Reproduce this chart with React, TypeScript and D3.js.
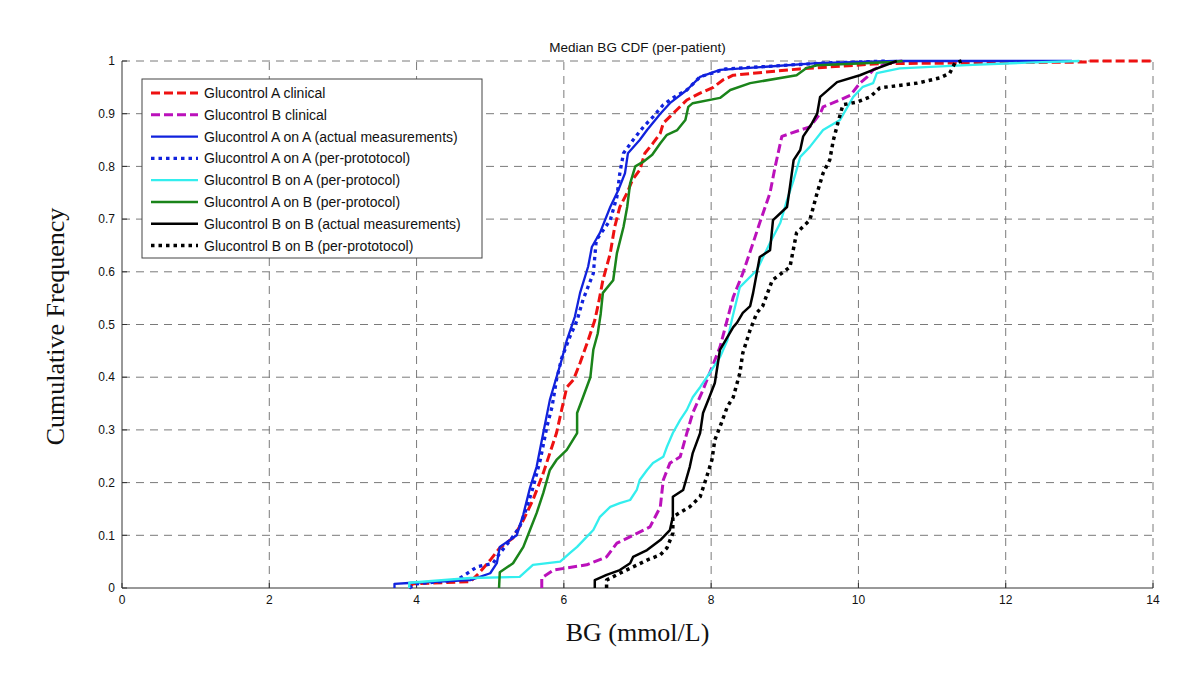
import React from "react";
import * as d3 from "d3";

type P = [number, number];

const xTicks = [0, 2, 4, 6, 8, 10, 12, 14];
const yTicks = [0, 0.1, 0.2, 0.3, 0.4, 0.5, 0.6, 0.7, 0.8, 0.9, 1];
const yTickLabels = ["0", "0.1", "0.2", "0.3", "0.4", "0.5", "0.6", "0.7", "0.8", "0.9", "1"];

const redAClinical: P[] = [[3.9,0],[3.95,0.008],[4.73,0.012],[4.86,0.03],[5.0,0.053],[5.13,0.076],[5.31,0.095],[5.45,0.129],[5.58,0.167],[5.72,0.218],[5.81,0.256],[5.9,0.294],[5.97,0.338],[6.04,0.381],[6.13,0.395],[6.22,0.427],[6.33,0.47],[6.42,0.508],[6.47,0.54],[6.53,0.584],[6.63,0.635],[6.69,0.685],[6.76,0.723],[6.86,0.75],[6.93,0.774],[7.03,0.793],[7.1,0.825],[7.21,0.844],[7.31,0.863],[7.35,0.882],[7.48,0.9],[7.67,0.926],[7.85,0.939],[8.03,0.95],[8.16,0.964],[8.3,0.973],[9.2,0.985],[10.3,0.995],[13.1,0.998],[13.1,1],[14,1]];
const magentaBClinical: P[] = [[5.7,0],[5.7,0.019],[5.86,0.034],[6.31,0.044],[6.58,0.059],[6.72,0.085],[6.94,0.1],[7.17,0.116],[7.31,0.154],[7.35,0.205],[7.44,0.237],[7.58,0.249],[7.67,0.294],[7.75,0.332],[7.89,0.376],[7.98,0.408],[8.12,0.457],[8.3,0.552],[8.43,0.597],[8.57,0.655],[8.66,0.693],[8.8,0.75],[8.87,0.8],[8.96,0.857],[9.21,0.869],[9.34,0.875],[9.48,0.9],[9.52,0.913],[9.75,0.926],[9.89,0.935],[10.02,0.958],[10.12,0.97],[10.2,0.983],[10.39,0.996],[10.6,1]];
const blueAonAActual: P[] = [[3.7,0],[3.7,0.008],[3.95,0.01],[4.73,0.015],[5.0,0.028],[5.09,0.047],[5.13,0.078],[5.36,0.1],[5.45,0.14],[5.54,0.19],[5.63,0.23],[5.72,0.294],[5.81,0.357],[5.9,0.4],[5.97,0.433],[6.04,0.47],[6.15,0.515],[6.22,0.56],[6.33,0.61],[6.38,0.647],[6.49,0.674],[6.63,0.723],[6.74,0.755],[6.83,0.787],[6.87,0.825],[7.03,0.85],[7.13,0.869],[7.31,0.9],[7.44,0.92],[7.67,0.945],[7.85,0.97],[8.12,0.983],[9.44,0.996],[10.5,1],[12.9,1]];
const blueAonAProtocol: P[] = [[3.9,0],[4.0,0.008],[4.55,0.015],[4.82,0.04],[5.04,0.047],[5.13,0.066],[5.27,0.09],[5.4,0.116],[5.5,0.154],[5.58,0.19],[5.68,0.243],[5.77,0.306],[5.84,0.344],[5.9,0.395],[5.97,0.436],[6.08,0.476],[6.18,0.508],[6.26,0.547],[6.4,0.597],[6.44,0.66],[6.63,0.698],[6.72,0.742],[6.76,0.787],[6.81,0.825],[6.94,0.85],[7.08,0.875],[7.21,0.894],[7.35,0.917],[7.48,0.93],[7.67,0.945],[7.85,0.97],[8.2,0.985],[9.5,0.996],[10.4,1]];
const cyanBonAProtocol: P[] = [[3.9,0],[3.9,0.01],[4.73,0.019],[5.4,0.021],[5.58,0.044],[5.95,0.05],[6.08,0.066],[6.18,0.078],[6.31,0.097],[6.4,0.11],[6.49,0.135],[6.63,0.154],[6.76,0.161],[6.9,0.167],[6.99,0.186],[7.03,0.205],[7.13,0.224],[7.21,0.237],[7.35,0.249],[7.4,0.268],[7.48,0.294],[7.58,0.319],[7.67,0.338],[7.75,0.362],[7.85,0.381],[7.98,0.408],[8.12,0.438],[8.22,0.47],[8.28,0.508],[8.39,0.571],[8.62,0.603],[8.8,0.655],[8.94,0.693],[9.03,0.736],[9.12,0.774],[9.21,0.818],[9.34,0.837],[9.52,0.869],[9.75,0.888],[9.93,0.932],[10.06,0.951],[10.2,0.958],[10.25,0.977],[10.56,0.986],[11.47,0.992],[12.3,0.997],[13,1]];
const greenAonBProtocol: P[] = [[5.12,0],[5.13,0.03],[5.31,0.047],[5.45,0.078],[5.54,0.11],[5.63,0.142],[5.72,0.18],[5.81,0.224],[5.9,0.243],[6.04,0.262],[6.18,0.294],[6.18,0.332],[6.26,0.362],[6.36,0.4],[6.4,0.452],[6.46,0.483],[6.5,0.52],[6.53,0.56],[6.67,0.584],[6.72,0.635],[6.81,0.685],[6.86,0.723],[6.9,0.768],[6.97,0.8],[7.08,0.809],[7.2,0.822],[7.31,0.844],[7.4,0.86],[7.54,0.869],[7.65,0.888],[7.69,0.913],[7.75,0.92],[8.12,0.93],[8.26,0.945],[8.53,0.958],[9.16,0.973],[9.3,0.987],[9.44,0.992],[10.47,0.998],[10.6,1]];
const blackBonBActual: P[] = [[6.42,0],[6.42,0.015],[6.58,0.025],[6.76,0.034],[6.9,0.047],[6.94,0.059],[7.13,0.072],[7.31,0.091],[7.44,0.11],[7.48,0.135],[7.48,0.173],[7.62,0.186],[7.71,0.23],[7.75,0.256],[7.85,0.294],[7.89,0.332],[7.97,0.36],[8.05,0.389],[8.12,0.452],[8.3,0.495],[8.35,0.503],[8.43,0.522],[8.53,0.535],[8.57,0.56],[8.66,0.628],[8.8,0.641],[8.84,0.698],[9.03,0.723],[9.07,0.761],[9.12,0.812],[9.21,0.831],[9.25,0.857],[9.37,0.882],[9.44,0.9],[9.48,0.932],[9.71,0.96],[10.02,0.973],[10.2,0.983],[10.52,1]];
const blackBonBProtocol: P[] = [[6.58,0],[6.58,0.015],[6.76,0.028],[6.94,0.04],[7.13,0.053],[7.31,0.063],[7.4,0.076],[7.48,0.104],[7.48,0.135],[7.71,0.154],[7.85,0.173],[7.94,0.211],[8.01,0.243],[8.05,0.281],[8.12,0.306],[8.22,0.344],[8.3,0.362],[8.39,0.408],[8.43,0.446],[8.53,0.49],[8.62,0.522],[8.7,0.535],[8.83,0.584],[9.07,0.609],[9.16,0.674],[9.34,0.698],[9.44,0.75],[9.52,0.787],[9.61,0.812],[9.66,0.85],[9.72,0.882],[9.79,0.917],[9.98,0.922],[10.16,0.932],[10.29,0.949],[10.8,0.958],[11.11,0.968],[11.24,0.977],[11.31,0.996],[11.4,1]];

const seriesNames = [
  "Glucontrol A clinical",
  "Glucontrol B clinical",
  "Glucontrol A on A (actual measurements)",
  "Glucontrol A on A (per-prototocol)",
  "Glucontrol B on A (per-protocol)",
  "Glucontrol A on B (per-protocol)",
  "Glucontrol B on B (actual measurements)",
  "Glucontrol B on B (per-prototocol)",
];
const seriesData = [redAClinical, magentaBClinical, blueAonAActual, blueAonAProtocol, cyanBonAProtocol, greenAonBProtocol, blackBonBActual, blackBonBProtocol];

const styles = [
  { color: "#ee1111", width: 3, dash: "9,4" },
  { color: "#bb11bb", width: 3, dash: "9,4" },
  { color: "#1122dd", width: 2.3, dash: "" },
  { color: "#1122dd", width: 3.3, dash: "3.5,4" },
  { color: "#33eeee", width: 2.3, dash: "" },
  { color: "#1a841a", width: 2.5, dash: "" },
  { color: "#000000", width: 2.5, dash: "" },
  { color: "#000000", width: 3.5, dash: "3.5,4" },
];

const W = 1200, H = 675;
const L = 122, R = 1153, T = 61, B = 588;

export default function App() {
  const x = d3.scaleLinear().domain([0, 14]).range([L, R]);
  const y = d3.scaleLinear().domain([0, 1]).range([B, T]);
  const line = d3.line<P>().x((d) => x(d[0])).y((d) => y(d[1]));
  const sans = "'Liberation Sans', Arial, sans-serif";
  const serif = "'Liberation Serif', 'Times New Roman', serif";
  const legX = 142, legY = 79, legW = 340, legH = 179;
  return (
    <svg width={W} height={H} style={{ position: "absolute", left: 0, top: 0, background: "#fff" }}>
      <rect x={0} y={0} width={W} height={H} fill="#fff" />
      {xTicks.filter((t) => t > 0).map((t) => (
        <line key={"gx" + t} x1={x(t)} x2={x(t)} y1={B} y2={T} stroke="#7a7a7a" strokeWidth={1} strokeDasharray="8,6" />
      ))}
      {yTicks.filter((t) => t > 0).map((t) => (
        <line key={"gy" + t} x1={L} x2={R} y1={y(t)} y2={y(t)} stroke="#7a7a7a" strokeWidth={1} strokeDasharray="8,6" />
      ))}
      <line x1={L} x2={L} y1={B} y2={T} stroke="#333" strokeWidth={1} />
      <line x1={L} x2={R} y1={B} y2={B} stroke="#333" strokeWidth={1} />
      {yTicks.map((t) => (
        <line key={"ty" + t} x1={L} x2={L + 5} y1={y(t)} y2={y(t)} stroke="#333" strokeWidth={1} />
      ))}
      {xTicks.map((t) => (
        <line key={"tx" + t} x1={x(t)} x2={x(t)} y1={B} y2={B - 5} stroke="#333" strokeWidth={1} />
      ))}
      {yTicks.map((t, i) => (
        <text key={"ly" + t} x={L - 7} y={y(t)} dy="0.35em" textAnchor="end" fontFamily={sans} fontSize={12} fill="#111">
          {yTickLabels[i]}
        </text>
      ))}
      {xTicks.map((t) => (
        <text key={"lx" + t} x={x(t)} y={B + 16} textAnchor="middle" fontFamily={sans} fontSize={12} fill="#111">
          {t}
        </text>
      ))}
      {seriesData.map((d, i) => (
        <path key={"s" + i} d={line(d) || ""} fill="none" stroke={styles[i].color} strokeWidth={styles[i].width}
          strokeDasharray={styles[i].dash || undefined} strokeLinejoin="round" />
      ))}
      <text x={(L + R) / 2} y={52} textAnchor="middle" fontFamily={sans} fontSize={13.5} fill="#111">
        Median BG CDF (per-patient)
      </text>
      <text x={(L + R) / 2} y={641} textAnchor="middle" fontFamily={serif} fontSize={26} fill="#111">
        BG (mmol/L)
      </text>
      <text transform={`translate(64, ${(B + T) / 2 + 2}) rotate(-90)`} textAnchor="middle" fontFamily={serif} fontSize={26} fill="#111">
        Cumulative Frequency
      </text>
      <rect x={legX} y={legY} width={legW} height={legH} fill="#fff" stroke="#444" strokeWidth={1} />
      {seriesNames.map((name, i) => {
        const cy = 93 + i * 21.8;
        return (
          <g key={"lg" + i}>
            <line x1={151} x2={198} y1={cy} y2={cy} stroke={styles[i].color} strokeWidth={styles[i].width}
              strokeDasharray={styles[i].dash || undefined} />
            <text x={204} y={cy} dy="0.35em" fontFamily={sans} fontSize={14} fill="#111">
              {name}
            </text>
          </g>
        );
      })}
    </svg>
  );
}
